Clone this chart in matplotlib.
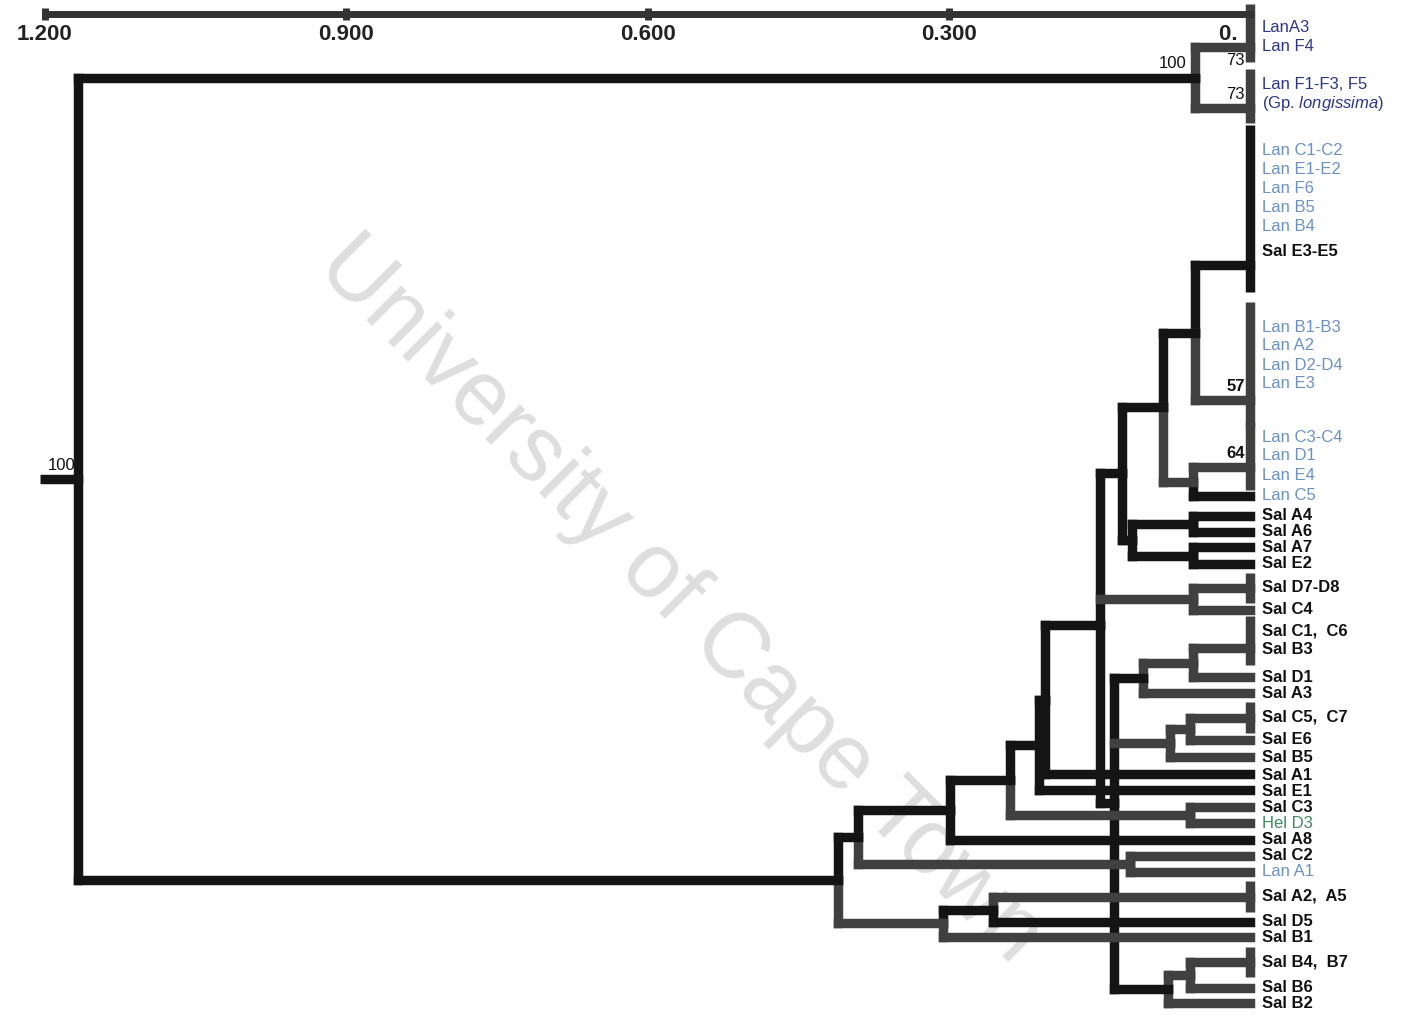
import matplotlib
matplotlib.use("Agg")
import matplotlib.pyplot as plt
import numpy as np

plt.rcParams['font.family'] = ['Liberation Sans', 'DejaVu Sans']
plt.rcParams['mathtext.fontset'] = 'custom'
plt.rcParams['mathtext.it'] = 'Liberation Sans:italic'
plt.rcParams['mathtext.rm'] = 'Liberation Sans'

# terminal groups of the dendrogram (leaf order, top to bottom)
leaf_names = ['LanA3F4', 'LanF1F5', 'G3', 'G4', 'G5', 'LanC5',
              'SalA4', 'SalA6', 'SalA7', 'SalE2', 'SalD7D8', 'SalC4',
              'SalC1C6B3', 'SalD1', 'SalA3', 'SalC5C7', 'SalE6', 'SalB5',
              'SalA1', 'SalE1', 'SalC3', 'HelD3', 'SalA8', 'SalC2', 'LanA1',
              'SalA2A5', 'SalD5', 'SalB1', 'SalB4B7', 'SalB6', 'SalB2']
leaf_y = [47, 108, 265, 400, 467, 496,
          516, 532, 547, 564, 588, 610,
          648, 677, 693, 718, 740, 757,
          774, 790, 807, 823, 840, 856, 872,
          897, 922, 937, 962, 988, 1003]
leaf_labels = [
    ['LanA3', 'Lan F4'],
    ['Lan F1-F3, F5', '(Gp. $\\mathit{longissima}$)'],
    ['Lan C1-C2', 'Lan E1-E2', 'Lan F6', 'Lan B5', 'Lan B4', 'Sal E3-E5'],
    ['Lan B1-B3', 'Lan A2', 'Lan D2-D4', 'Lan E3'],
    ['Lan C3-C4', 'Lan D1', 'Lan E4'],
    ['Lan C5'],
    ['Sal A4'], ['Sal A6'], ['Sal A7'], ['Sal E2'],
    ['Sal D7-D8'], ['Sal C4'],
    ['Sal C1,  C6', 'Sal B3'], ['Sal D1'], ['Sal A3'],
    ['Sal C5,  C7'], ['Sal E6'], ['Sal B5'],
    ['Sal A1'], ['Sal E1'], ['Sal C3'], ['Hel D3'], ['Sal A8'], ['Sal C2'], ['Lan A1'],
    ['Sal A2,  A5'], ['Sal D5'], ['Sal B1'],
    ['Sal B4,  B7'], ['Sal B6'], ['Sal B2'],
]
label_y0 = [27, 84, 150, 327, 437, 496,
            516, 532, 547, 564, 588, 610,
            631, 677, 694, 717, 739, 757,
            775, 791, 807, 823, 840, 856, 872,
            896, 922, 938, 962, 988, 1004]
grouped = ['LanA3F4', 'LanF1F5', 'G3', 'G4', 'G5', 'SalD7D8', 'SalC1C6B3',
           'SalC5C7', 'SalA2A5', 'SalB4B7']

# internal nodes: children and distance (scale on top axis)
node_names = ['A', 'B', 'C', 'D', 'AA', 'AE', 'E', 'F', 'G', 'H', 'I', 'L',
              'K', 'Y', 'Z', 'M', 'J', 'P1', 'P2', 'CH', 'Q', 'R', 'S', 'T',
              'W', 'X', 'U', 'Root']
node_children = [
    ['LanA3F4', 'LanF1F5'], ['G3', 'G4'], ['G5', 'LanC5'], ['B', 'C'],
    ['SalA4', 'SalA6'], ['SalA7', 'SalE2'], ['AA', 'AE'], ['D', 'E'],
    ['SalD7D8', 'SalC4'], ['SalC1C6B3', 'SalD1'], ['H', 'SalA3'],
    ['SalC5C7', 'SalE6'], ['L', 'SalB5'], ['SalB4B7', 'SalB6'], ['Y', 'SalB2'],
    ['I', 'K', 'Z'], ['F', 'G', 'M'], ['J', 'SalA1'], ['P1', 'SalE1'],
    ['SalC3', 'HelD3'], ['P2', 'CH'], ['Q', 'SalA8'], ['SalC2', 'LanA1'],
    ['R', 'S'], ['SalA2A5', 'SalD5'], ['W', 'SalB1'], ['T', 'X'], ['A', 'U'],
]
node_dist = [0.055, 0.055, 0.057, 0.087, 0.057, 0.057, 0.118, 0.127,
             0.057, 0.057, 0.107, 0.060, 0.080, 0.060, 0.082, 0.135,
             0.149, 0.204, 0.210, 0.060, 0.239, 0.299, 0.120, 0.390,
             0.256, 0.306, 0.410, 1.167]

# bootstrap support
support_at = ['Root', 'A', 'LanA3F4', 'LanF1F5', 'G4', 'G5']
support_val = ['100', '100', '73', '73', '57', '64']

tick_vals = [1.2, 0.9, 0.6, 0.3, 0.0]
tick_text = ['1.200', '0.900', '0.600', '0.300', '0.  ']

# branches drawn in the lighter grey
grey_edges = {'LanA3F4', 'LanF1F5', 'G4', 'G5', 'C', 'G', 'SalD7D8', 'SalC4',
              'SalC1C6B3', 'SalD1', 'H', 'SalA3', 'K', 'L', 'SalC5C7', 'SalE6',
              'SalB5', 'CH', 'SalC3', 'HelD3', 'S', 'SalC2', 'LanA1', 'X',
              'SalA2A5', 'SalB1', 'Y', 'SalB4B7', 'SalB6', 'SalB2'}
navy_leaves = {'LanA3F4', 'LanF1F5'}

BLACK = '#141414'
GREY = '#404040'
LW = 6.8

children = dict(zip(node_names, node_children))
dist = dict(zip(leaf_names, [0.0] * len(leaf_names)))
dist.update(zip(node_names, node_dist))
pos = dict(zip(leaf_names, leaf_y))


def ypos(n):
    if n not in pos:
        pos[n] = float(np.mean([ypos(c) for c in children[n]]))
    return pos[n]


def col(n):
    return GREY if n in grey_edges else BLACK


fig = plt.figure(figsize=(14.1, 10.15), dpi=100)
ax = fig.add_axes([0, 0, 1, 1])
ax.set_xlim(1.2448, -0.1593)
ax.set_ylim(1015, 0)

for n in node_names:
    kids = children[n]
    x = dist[n]
    y = ypos(n)
    ys = [ypos(c) for c in kids]
    ax.plot([x, x], [min(ys), y], color=col(kids[0]), lw=LW,
            solid_capstyle='projecting', zorder=3)
    ax.plot([x, x], [y, max(ys)], color=col(kids[-1]), lw=LW,
            solid_capstyle='projecting', zorder=3)
    for c in kids:
        ax.plot([x, dist[c]], [pos[c], pos[c]], color=col(c), lw=LW,
                solid_capstyle='projecting', zorder=3)

# root stub
root = node_names[-1]
ax.plot([dist[root], dist[root] + 0.038], [ypos(root)] * 2, color=BLACK,
        lw=LW, solid_capstyle='butt', zorder=3)

# grouped terminals: vertical bars + labels
LINE = 19
for name, labels, y0 in zip(leaf_names, leaf_labels, label_y0):
    ys = [y0 + i * LINE for i in range(len(labels))]
    if name == 'G3':
        ys[-1] += 6
    if name in grouped:
        top = min(ys[0], pos[name]) - 15
        bot = max(ys[-1], pos[name]) + 15
        if name == 'LanA3F4':
            top -= 8
        if name in ('G3', 'G4'):
            top -= 10
            bot += 12
        ax.plot([0, 0], [top, bot], color=col(name), lw=LW,
                solid_capstyle='butt', zorder=3)
    for lab, yy in zip(labels, ys):
        if name in navy_leaves:
            c, w = '#2b3689', 'normal'
        elif lab.startswith('Lan'):
            c, w = '#6b90c4', 'normal'
        elif lab.startswith('Hel'):
            c, w = '#3f8a5f', 'normal'
        else:
            c, w = '#111111', 'bold'
        ax.text(-0.012, yy, lab, color=c, fontsize=12, fontweight=w,
                ha='left', va='center', zorder=4)

# bootstrap labels
for n, v in zip(support_at, support_val):
    y = ypos(n)
    if n == root:
        ax.text(dist[n] + 0.016, y - 6, v, fontsize=12, ha='center',
                va='bottom', color='#111111')
    elif n in node_names:
        ax.text(dist[n] + 0.008, y - 7, v, fontsize=12, ha='right',
                va='bottom', color='#111111')
    else:
        below = n == 'LanA3F4'
        ax.text(0.005, y + 6 if below else y - 6, v, fontsize=12,
                fontweight='bold' if n in ('G4', 'G5') else 'normal',
                ha='right', va='top' if below else 'bottom', color='#111111')

# scale axis at the top
for s in ['top', 'left', 'right']:
    ax.spines[s].set_visible(False)
ax.spines['bottom'].set_position(('data', 14))
ax.spines['bottom'].set_bounds(0, 1.2)
ax.spines['bottom'].set_linewidth(5)
ax.spines['bottom'].set_color('#333333')
ax.spines['bottom'].set_zorder(3)
ax.set_xticks(tick_vals)
ax.set_xticklabels(tick_text)
ax.tick_params(axis='x', direction='inout', length=9, width=5,
               color='#333333', pad=3, labelsize=16, labelcolor='#222222')
for t in ax.get_xticklabels():
    t.set_fontweight('bold')
ax.get_xticklabels()[-1].set_horizontalalignment('right')
ax.set_yticks([])

# watermark
ax.text(0.5676, 600, 'University of Cape Town', fontsize=66, color='#dedede',
        rotation=-45, rotation_mode='anchor', ha='center', va='center',
        zorder=0)

fig.savefig('out.png', dpi=100)
